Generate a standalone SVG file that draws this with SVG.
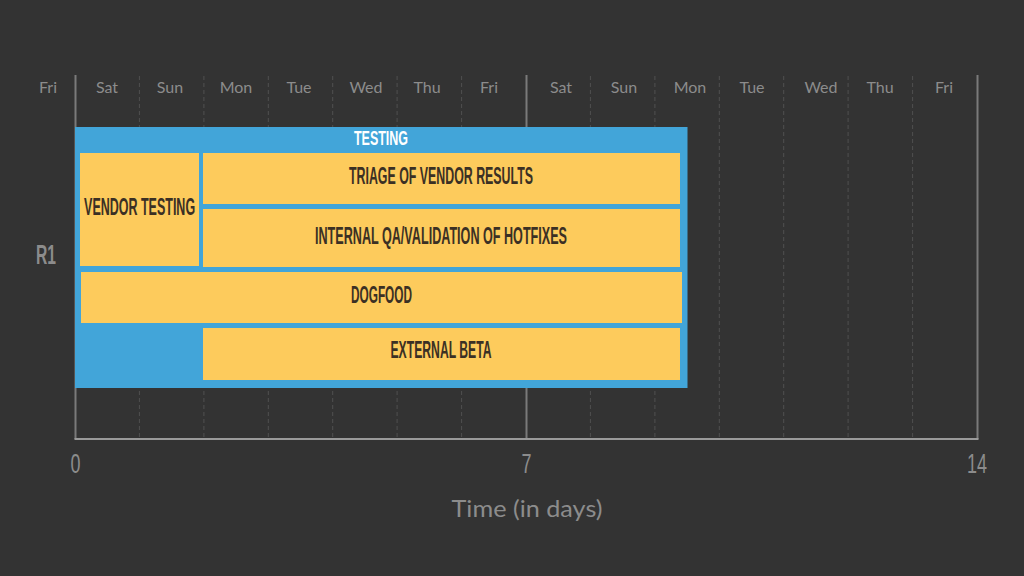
<svg xmlns="http://www.w3.org/2000/svg" width="1024" height="576" viewBox="0 0 1024 576">
<style>
.day{font-family:Lato,"Open Sans",sans-serif;font-size:16px;fill:#8c8c8c;text-anchor:middle}
.grid{stroke:#505050;stroke-width:1;stroke-dasharray:4 3}
.solid{stroke:#7a7a7a;stroke-width:2}
.bar{fill:#fdcb5c}
.lbl{font-family:"Liberation Sans Narrow","Liberation Sans",sans-serif;font-weight:bold;font-size:23px;fill:#3b3024;text-anchor:middle}
.num{font-family:"Liberation Sans Narrow","Liberation Sans",sans-serif;font-size:27px;fill:#8c8c8c;text-anchor:middle}
</style>
<rect width="1024" height="576" fill="#333333"/>
<g id="grid">
<line class="grid" x1="139.4" y1="76" x2="139.4" y2="439"/>
<line class="grid" x1="203.9" y1="76" x2="203.9" y2="439"/>
<line class="grid" x1="268.3" y1="76" x2="268.3" y2="439"/>
<line class="grid" x1="332.7" y1="76" x2="332.7" y2="439"/>
<line class="grid" x1="397.1" y1="76" x2="397.1" y2="439"/>
<line class="grid" x1="461.6" y1="76" x2="461.6" y2="439"/>
<line class="grid" x1="590.4" y1="76" x2="590.4" y2="439"/>
<line class="grid" x1="654.9" y1="76" x2="654.9" y2="439"/>
<line class="grid" x1="719.3" y1="76" x2="719.3" y2="439"/>
<line class="grid" x1="783.7" y1="76" x2="783.7" y2="439"/>
<line class="grid" x1="848.1" y1="76" x2="848.1" y2="439"/>
<line class="grid" x1="912.6" y1="76" x2="912.6" y2="439"/>
<line class="solid" x1="75.5" y1="75" x2="75.5" y2="439"/>
<line class="solid" x1="526.5" y1="75" x2="526.5" y2="439"/>
<line class="solid" x1="977.5" y1="75" x2="977.5" y2="439"/>
<line x1="74.5" y1="439" x2="978.5" y2="439" stroke="#9a9a9a" stroke-width="2"/>
</g>
<g id="days">
<text class="day" x="48" y="93">Fri</text>
<text class="day" x="107" y="93">Sat</text>
<text class="day" x="170" y="93">Sun</text>
<text class="day" x="236" y="93">Mon</text>
<text class="day" x="299" y="93">Tue</text>
<text class="day" x="366" y="93">Wed</text>
<text class="day" x="427" y="93">Thu</text>
<text class="day" x="489" y="93">Fri</text>
<text class="day" x="561" y="93">Sat</text>
<text class="day" x="624" y="93">Sun</text>
<text class="day" x="690" y="93">Mon</text>
<text class="day" x="752" y="93">Tue</text>
<text class="day" x="821" y="93">Wed</text>
<text class="day" x="880" y="93">Thu</text>
<text class="day" x="944" y="93">Fri</text>
</g>
<g id="testing">
<rect x="75" y="127" width="612.5" height="261" fill="#42a5d9"/>
<text x="381" y="145" font-family="'Liberation Sans Narrow','Liberation Sans',sans-serif" font-weight="bold" font-size="21" fill="#ffffff" text-anchor="middle" textLength="54" lengthAdjust="spacingAndGlyphs">TESTING</text>
</g>
<g id="vendor-testing">
<rect class="bar" x="80" y="153" width="119" height="113"/>
<text class="lbl" x="139.6" y="215" textLength="111" lengthAdjust="spacingAndGlyphs">VENDOR TESTING</text>
</g>
<g id="triage">
<rect class="bar" x="203" y="153" width="477" height="51"/>
<text class="lbl" x="441" y="184" textLength="184" lengthAdjust="spacingAndGlyphs">TRIAGE OF VENDOR RESULTS</text>
</g>
<g id="internal-qa">
<rect class="bar" x="203" y="209" width="477" height="58"/>
<text class="lbl" x="441" y="243.5" textLength="252" lengthAdjust="spacingAndGlyphs">INTERNAL QA/VALIDATION OF HOTFIXES</text>
</g>
<g id="dogfood">
<rect class="bar" x="81" y="272" width="601" height="51"/>
<text class="lbl" x="381.5" y="302.5" textLength="61" lengthAdjust="spacingAndGlyphs">DOGFOOD</text>
</g>
<g id="external-beta">
<rect class="bar" x="203" y="328" width="477" height="52"/>
<text class="lbl" x="441" y="358" textLength="101" lengthAdjust="spacingAndGlyphs">EXTERNAL BETA</text>
</g>
<g id="labels">
<text class="num" x="46" y="264" font-weight="bold" textLength="20" lengthAdjust="spacingAndGlyphs">R1</text>
<text class="num" x="75.5" y="473" textLength="10" lengthAdjust="spacingAndGlyphs">0</text>
<text class="num" x="526.5" y="473" textLength="10" lengthAdjust="spacingAndGlyphs">7</text>
<text class="num" x="977" y="473" textLength="20" lengthAdjust="spacingAndGlyphs">14</text>
<text x="527" y="517" font-family="Lato,'Open Sans',sans-serif" font-size="23" fill="#8c8c8c" text-anchor="middle" textLength="151" lengthAdjust="spacingAndGlyphs">Time (in days)</text>
</g>
</svg>
